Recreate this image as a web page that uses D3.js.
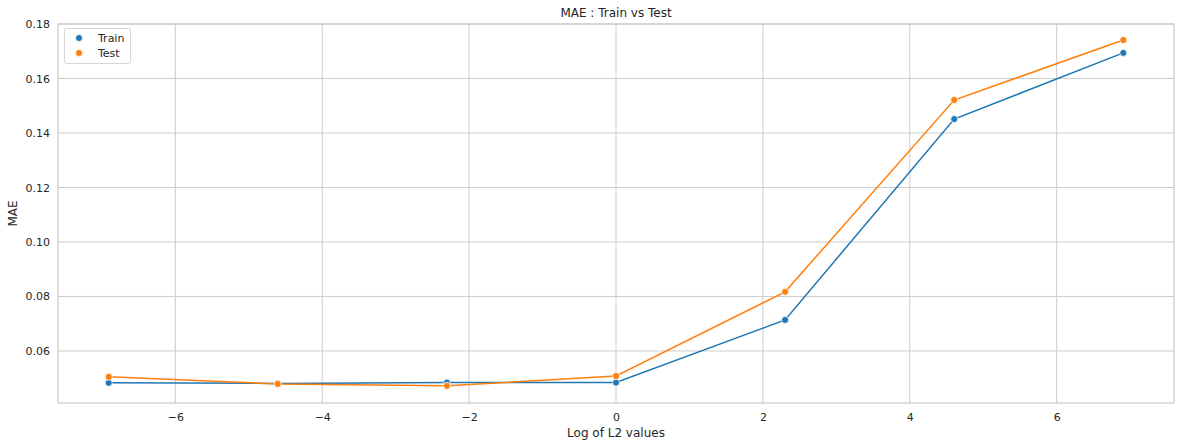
<!DOCTYPE html>
<head>
<meta charset="utf-8">
<script src="https://d3js.org/d3.v7.min.js"></script>
<style>
    body { margin: 0; background: #fff; }
    text { font-family: "DejaVu Sans", sans-serif; fill: #262626; }
    .grid line { stroke: #cccccc; stroke-width: 1; }
</style>
</head>
<body>
<svg></svg>
<script>
    var width = 1181;
    var height = 447;
    var margin = {top: 24, right: 7, bottom: 44, left: 58};

    // data
    var l2Values = [0.001, 0.01, 0.1, 1, 10, 100, 1000];
    var trainMAE = [0.0483, 0.0481, 0.0484, 0.0484, 0.0714, 0.1451, 0.1694];
    var testMAE  = [0.0505, 0.0479, 0.0472, 0.0508, 0.0817, 0.1521, 0.1741];
    var xTicks = [-6, -4, -2, 0, 2, 4, 6];
    var yTicks = [0.06, 0.08, 0.10, 0.12, 0.14, 0.16, 0.18];
    var seriesNames = ["Train", "Test"];
    var seriesColors = ["#1f77b4", "#ff7f0e"];

    var svg = d3.select("svg")
        .attr("width", width)
        .attr("height", height);

    var x = d3.scaleLinear().domain([-7.598, 7.598]).range([margin.left, width - margin.right]);
    var y = d3.scaleLinear().domain([0.0409, 0.18]).range([height - margin.bottom, margin.top]);

    // gridlines
    svg.append("g").attr("class", "grid")
        .selectAll("line").data(xTicks).enter().append("line")
        .attr("x1", d => x(d)).attr("x2", d => x(d))
        .attr("y1", margin.top).attr("y2", height - margin.bottom);
    svg.append("g").attr("class", "grid")
        .selectAll("line").data(yTicks).enter().append("line")
        .attr("y1", d => y(d)).attr("y2", d => y(d))
        .attr("x1", margin.left).attr("x2", width - margin.right);

    // frame
    svg.append("rect")
        .attr("x", margin.left).attr("y", margin.top)
        .attr("width", width - margin.left - margin.right)
        .attr("height", height - margin.top - margin.bottom)
        .attr("fill", "none").attr("stroke", "#cccccc").attr("stroke-width", 1.25);

    // axes
    var xAxis = svg.append("g")
        .attr("transform", "translate(0," + (height - margin.bottom) + ")")
        .call(d3.axisBottom(x).tickValues(xTicks).tickSize(0).tickPadding(10)
            .tickFormat(d => d < 0 ? "\u2212" + Math.abs(d) : d));
    var yAxis = svg.append("g")
        .attr("transform", "translate(" + margin.left + ",0)")
        .call(d3.axisLeft(y).tickValues(yTicks).tickSize(0).tickPadding(8)
            .tickFormat(d3.format(".2f")));
    [xAxis, yAxis].forEach(function(a) {
        a.select(".domain").remove();
        a.selectAll("text").style("font-size", "11px").style("font-family", "DejaVu Sans").attr("fill", "#262626");
    });

    // labels
    svg.append("text")
        .attr("x", (margin.left + width - margin.right) / 2).attr("y", 17)
        .attr("text-anchor", "middle").style("font-size", "12px")
        .text("MAE : Train vs Test");
    svg.append("text")
        .attr("x", (margin.left + width - margin.right) / 2).attr("y", 437)
        .attr("text-anchor", "middle").style("font-size", "12px")
        .text("Log of L2 values");
    svg.append("text")
        .attr("transform", "translate(17," + (margin.top + (height - margin.top - margin.bottom) / 2) + ") rotate(-90)")
        .attr("text-anchor", "middle").style("font-size", "12px")
        .text("MAE");

    // lines + markers
    var series = [trainMAE, testMAE];
    var line = d3.line()
        .x((d, i) => x(Math.log(l2Values[i])))
        .y(d => y(d));

    series.forEach(function(vals, s) {
        svg.append("path")
            .datum(vals)
            .attr("d", line)
            .attr("fill", "none")
            .attr("stroke", seriesColors[s])
            .attr("stroke-width", 1.5);
    });
    series.forEach(function(vals, s) {
        svg.selectAll(".pt" + s).data(vals).enter().append("circle")
            .attr("cx", (d, i) => x(Math.log(l2Values[i])))
            .attr("cy", d => y(d))
            .attr("r", 3.5)
            .attr("fill", seriesColors[s])
            .attr("stroke", "#fff")
            .attr("stroke-width", 0.75);
    });

    // legend
    var legend = svg.append("g");
    legend.append("rect")
        .attr("x", 64.5).attr("y", 28.5).attr("width", 66).attr("height", 35).attr("rx", 2)
        .attr("fill", "#fff").attr("fill-opacity", 0.8).attr("stroke", "#d6d6d6");
    seriesNames.forEach(function(name, i) {
        legend.append("circle")
            .attr("cx", 79).attr("cy", 38 + i * 15).attr("r", 3.5)
            .attr("fill", seriesColors[i]).attr("stroke", "#fff").attr("stroke-width", 0.75);
        legend.append("text")
            .attr("x", 98).attr("y", 42 + i * 15)
            .style("font-size", "11px").text(name);
    });
</script>
</body>
